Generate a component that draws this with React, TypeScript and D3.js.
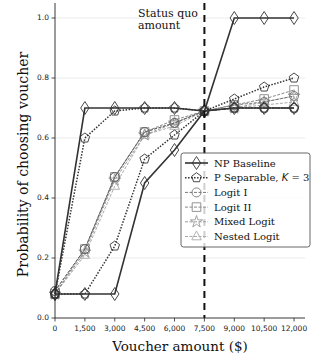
import React from "react";
import * as d3 from "d3";

// voucher amounts on the x axis
const amounts = [0, 1500, 3000, 4500, 6000, 7500, 9000, 10500, 12000];
const xTicks = [0, 1500, 3000, 4500, 6000, 7500, 9000, 10500, 12000];
const yTicks = [0, 0.2, 0.4, 0.6, 0.8, 1.0];

// each model has two curves
const npLow = [0.08, 0.08, 0.08, 0.45, 0.56, 0.69, 1.0, 1.0, 1.0];
const npHigh = [0.08, 0.7, 0.7, 0.7, 0.7, 0.69, 0.7, 0.7, 0.7];
const psLow = [0.08, 0.08, 0.24, 0.53, 0.61, 0.69, 0.73, 0.77, 0.8];
const psHigh = [0.08, 0.6, 0.69, 0.7, 0.7, 0.69, 0.7, 0.7, 0.7];
const logit1 = [0.09, 0.23, 0.47, 0.62, 0.65, 0.69, 0.71, 0.72, 0.74];
const logit1b = [0.09, 0.23, 0.47, 0.62, 0.65, 0.69, 0.7, 0.7, 0.7];
const logit2 = [0.08, 0.23, 0.47, 0.62, 0.66, 0.69, 0.71, 0.73, 0.76];
const mixed = [0.08, 0.22, 0.46, 0.61, 0.65, 0.69, 0.7, 0.72, 0.74];
const nested = [0.08, 0.21, 0.44, 0.61, 0.64, 0.69, 0.7, 0.71, 0.72];

const margin = { left: 55, right: 7, top: 3, bottom: 45 };
const W = 312;
const H = 363;

const x = d3.scaleLinear().domain([0, 12550]).range([margin.left, W - margin.right]);
const y = d3.scaleLinear().domain([0, 1.05]).range([H - margin.bottom, margin.top]);

type Shape = "diamond" | "pentagon" | "circle" | "square" | "star" | "triangle";

const markerPath = (shape: Shape): string => {
  switch (shape) {
    case "diamond":
      return "M0,-6.5L4.2,0L0,6.5L-4.2,0Z";
    case "pentagon": {
      const r = 5;
      const pts = d3.range(5).map((i) => {
        const a = -Math.PI / 2 + (i * 2 * Math.PI) / 5;
        return [r * Math.cos(a), r * Math.sin(a)];
      });
      return "M" + pts.map((p) => p.join(",")).join("L") + "Z";
    }
    case "circle":
      return d3.symbol(d3.symbolCircle, 64)() as string;
    case "square":
      return "M-4.3,-4.3L4.3,-4.3L4.3,4.3L-4.3,4.3Z";
    case "star":
      return d3.symbol(d3.symbolStar, 45)() as string;
    case "triangle":
      return "M0,-5.5L4.8,3.3L-4.8,3.3Z";
  }
};

interface Series {
  values: number[];
  color: string;
  width: number;
  dash: string;
  shape: Shape;
}

const series: Series[] = [
  { values: nested, color: "#aaaaaa", width: 1, dash: "3,1.5", shape: "triangle" },
  { values: mixed, color: "#999999", width: 1, dash: "3,1.5", shape: "star" },
  { values: logit2, color: "#888888", width: 1, dash: "3,1.5", shape: "square" },
  { values: logit1, color: "#777777", width: 1, dash: "3,1.5", shape: "circle" },
  { values: logit1b, color: "#666666", width: 1, dash: "3,1.5", shape: "circle" },
  { values: psLow, color: "#333333", width: 1.5, dash: "1.5,1.5", shape: "pentagon" },
  { values: psHigh, color: "#333333", width: 1.5, dash: "1.5,1.5", shape: "pentagon" },
  { values: npLow, color: "#333333", width: 1.6, dash: "", shape: "diamond" },
  { values: npHigh, color: "#333333", width: 1.6, dash: "", shape: "diamond" },
];

const legendItems: { label: React.ReactNode; s: Series }[] = [
  { label: "NP Baseline", s: series[7] },
  {
    label: (
      <>
        P Separable, <tspan fontFamily="DejaVu Sans" fontStyle="italic">K</tspan> = 3
      </>
    ),
    s: series[5],
  },
  { label: "Logit I", s: series[3] },
  { label: "Logit II", s: series[2] },
  { label: "Mixed Logit", s: series[1] },
  { label: "Nested Logit", s: series[0] },
];

const fmt = d3.format(",");

export default function App() {
  const line = d3
    .line<number>()
    .x((_, i) => x(amounts[i]))
    .y((d) => y(d));

  const legX = 181;
  const legY = 153;

  return (
    <svg
      width={W}
      height={H}
      style={{ position: "absolute", left: 0, top: 0 }}
      fontFamily="DejaVu Serif"
    >
      <rect width={W} height={H} fill="#fff" />
      {/* grid */}
      {yTicks.slice(1).map((t) => (
        <line
          key={t}
          x1={x(0)}
          x2={W - margin.right}
          y1={y(t)}
          y2={y(t)}
          stroke="#e6e6e6"
          strokeWidth={0.8}
        />
      ))}

      {/* series */}
      {series.map((s, k) => (
        <g key={k}>
          <path
            d={line(s.values) as string}
            fill="none"
            stroke={s.color}
            strokeWidth={s.width}
            strokeDasharray={s.dash || undefined}
          />
          {s.values.map((v, i) => (
            <path
              key={i}
              d={markerPath(s.shape)}
              transform={`translate(${x(amounts[i])},${y(v)})`}
              fill="none"
              stroke={s.color}
              strokeWidth={0.9}
            />
          ))}
        </g>
      ))}

      {/* status quo line */}
      <line
        x1={x(7500)}
        x2={x(7500)}
        y1={margin.top}
        y2={y(0)}
        stroke="#111"
        strokeWidth={2}
        strokeDasharray="7,5"
      />
      <text x={138} y={17} fontSize={11} fill="#111">
        Status quo
      </text>
      <text x={138} y={29} fontSize={11} fill="#111">
        amount
      </text>

      {/* axes */}
      <line x1={x(0)} x2={x(0)} y1={margin.top} y2={y(0)} stroke="#222" strokeWidth={0.9} />
      <line x1={x(0)} x2={W - margin.right} y1={y(0)} y2={y(0)} stroke="#222" strokeWidth={0.9} />
      {yTicks.map((t) => (
        <g key={t}>
          <line x1={x(0) - 3.5} x2={x(0)} y1={y(t)} y2={y(t)} stroke="#222" strokeWidth={0.8} />
          <text
            x={x(0) - 6}
            y={y(t)}
            dy="0.33em"
            textAnchor="end"
            fontSize={7.5}
            fontFamily="DejaVu Sans"
            fill="#222"
          >
            {t.toFixed(1)}
          </text>
        </g>
      ))}
      {xTicks.map((t) => (
        <g key={t}>
          <line x1={x(t)} x2={x(t)} y1={y(0)} y2={y(0) + 3.5} stroke="#222" strokeWidth={0.8} />
          <text
            x={x(t)}
            y={y(0) + 13}
            textAnchor="middle"
            fontSize={7.5}
            fontFamily="DejaVu Sans"
            fill="#222"
          >
            {fmt(t)}
          </text>
        </g>
      ))}
      <text x={180} y={351} textAnchor="middle" fontSize={13.5} fill="#111">
        Voucher amount ($)
      </text>
      <text
        transform={`translate(28,${(margin.top + y(0)) / 2 + 4}) rotate(-90)`}
        textAnchor="middle"
        fontSize={14}
        fill="#111"
      >
        Probability of choosing voucher
      </text>

      {/* legend */}
      <rect
        x={legX}
        y={legY}
        width={129}
        height={94}
        rx={2.5}
        fill="#fff"
        fillOpacity={0.8}
        stroke="#555"
        strokeWidth={0.9}
      />
      {legendItems.map((it, i) => {
        const cy = legY + 10 + i * 14.7;
        return (
          <g key={i}>
            <line
              x1={legX + 4}
              x2={legX + 27}
              y1={cy}
              y2={cy}
              stroke={it.s.color}
              strokeWidth={it.s.width}
              strokeDasharray={it.s.dash || undefined}
            />
            <path
              d={markerPath(it.s.shape)}
              transform={`translate(${legX + 15.5},${cy})`}
              fill="none"
              stroke={it.s.color}
              strokeWidth={0.9}
            />
            <text x={legX + 33} y={cy} dy="0.35em" fontSize={10} fill="#111">
              {it.label}
            </text>
          </g>
        );
      })}
    </svg>
  );
}
